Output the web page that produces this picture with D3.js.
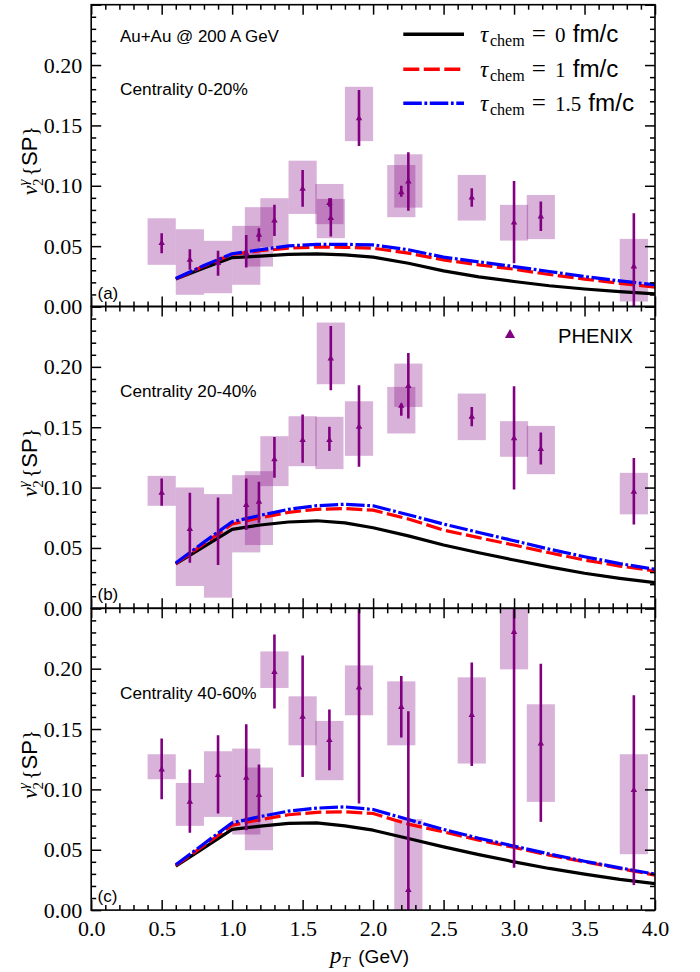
<!DOCTYPE html>
<html><head><meta charset="utf-8">
<script src="https://cdn.jsdelivr.net/npm/d3@7"></script>
<style>
body{margin:0;background:#fff} svg{display:block}
.serif{font-family:"Liberation Serif","DejaVu Serif",serif}
.sans{font-family:"Liberation Sans","DejaVu Sans",sans-serif}
</style>
</head><body><svg id="c" width="700" height="972"></svg>
<script>
// ---------- data ----------
const pT = [0.5,0.7,0.9,1.1,1.19,1.3,1.5,1.69,1.70,1.9,2.2,2.25,2.7,3.0,3.19,3.85];

const v2A     = [0.0525,0.0386,0.0359,0.044,0.0593,0.0712,0.0974,0.0856,0.0731,0.1559,0.0946,0.1034,0.0902,0.0695,0.0745,0.0331];
const statLoA = [0.0442,0.0304,0.0254,0.0323,0.0538,0.0585,0.0827,0.0827,0.0579,0.133,0.091,0.0794,0.0827,0.0359,0.0626,-0.01];
const statHiA = [0.0607,0.0475,0.0461,0.0593,0.0649,0.0842,0.1131,0.0897,0.0897,0.1793,0.1001,0.1277,0.098,0.104,0.0869,0.0773];
const sysLoA  = [0.0345,0.0097,0.011,0.018,0.0331,0.0492,0.0767,0.0682,0.0566,0.137,0.074,0.0819,0.0712,0.0546,0.0558,0.0041];
const sysHiA  = [0.0731,0.064,0.0544,0.0668,0.0823,0.0897,0.1208,0.1015,0.0891,0.182,0.1172,0.1261,0.109,0.0842,0.0924,0.056];

const v2B     = [0.0957,0.0656,0.062,0.0855,0.0882,0.1233,0.1393,0.1393,0.2069,0.1503,0.1677,0.184,0.1586,0.1407,0.1318,0.0965];
const statLoB = [0.0849,0.0377,0.0358,0.0648,0.0708,0.1081,0.1205,0.1302,0.1806,0.1172,0.1594,0.1572,0.1508,0.0985,0.1191,0.0695];
const statHiB = [0.1076,0.0957,0.0918,0.1076,0.1048,0.142,0.1605,0.1503,0.2338,0.1848,0.1696,0.2115,0.1668,0.184,0.1456,0.1246];
const sysLoB  = [0.0849,0.0185,0.0088,0.0463,0.0524,0.1012,0.1177,0.1153,0.1856,0.1263,0.1448,0.1668,0.1393,0.1255,0.1111,0.0778];
const sysHiB  = [0.1097,0.1001,0.0946,0.1103,0.1136,0.1426,0.1591,0.1586,0.2367,0.1715,0.1834,0.2027,0.1779,0.155,0.1511,0.1122];

const v2C     = [0.1164,0.0896,0.1117,0.1095,0.0952,0.1972,0.16,0.1407,0.29,0.1843,0.1682,0.0166,0.1614,0.2303,0.1379,0.0993];
const statLoC = [0.0918,0.064,0.08,0.0662,0.0731,0.1669,0.1103,0.1158,0.2485,0.0883,0.1429,-0.13,0.1194,0.035,0.0731,0.0207];
const statHiC = [0.1421,0.1164,0.1448,0.1539,0.1206,0.2284,0.211,0.1661,0.33,0.28,0.1939,0.1647,0.205,0.43,0.2041,0.1779];
const sysLoC  = [0.1084,0.0698,0.0772,0.0626,0.0496,0.184,0.1365,0.1076,0.26,0.1614,0.1365,-0.04,0.1214,0.1994,0.0896,0.0463];
const sysHiC  = [0.1291,0.1053,0.1316,0.1338,0.1181,0.2143,0.1771,0.1567,0.32,0.2027,0.1895,0.0753,0.1928,0.26,0.1705,0.1291];

const curvePT = [0.6,0.8,1.0,1.2,1.4,1.6,1.8,2.0,2.25,2.5,2.75,3.0,3.25,3.5,3.75,4.0];
const tau0A  = [0.0227,0.0318,0.0405,0.0418,0.0432,0.0436,0.0428,0.0409,0.0358,0.0295,0.0245,0.0207,0.0172,0.0145,0.0124,0.0105];
const tau1A  = [0.023,0.0335,0.0432,0.0462,0.0483,0.0492,0.049,0.0483,0.0442,0.0386,0.0345,0.0309,0.0265,0.0227,0.0192,0.016];
const tau15A = [0.0232,0.034,0.0437,0.047,0.0502,0.0514,0.0515,0.051,0.047,0.0409,0.037,0.0331,0.029,0.0248,0.0212,0.018];
const tau0B  = [0.0367,0.051,0.0654,0.069,0.0715,0.0725,0.0708,0.0667,0.06,0.0524,0.046,0.040,0.0343,0.029,0.0248,0.0212];
const tau1B  = [0.037,0.0535,0.0698,0.075,0.0795,0.082,0.0826,0.0813,0.074,0.0648,0.0585,0.0524,0.046,0.040,0.035,0.0309];
const tau15B = [0.0375,0.0548,0.0717,0.077,0.082,0.085,0.0862,0.0849,0.0775,0.0698,0.0628,0.056,0.049,0.0427,0.037,0.0323];
const tau0C  = [0.0364,0.0515,0.0668,0.0695,0.0718,0.0723,0.0698,0.0662,0.0593,0.0524,0.046,0.040,0.0345,0.0298,0.0255,0.022];
const tau1C  = [0.037,0.0535,0.0703,0.075,0.079,0.081,0.0815,0.080,0.0712,0.0648,0.058,0.0519,0.0455,0.040,0.0345,0.029];
const tau15C = [0.0375,0.055,0.0723,0.0775,0.082,0.0845,0.0855,0.0833,0.075,0.0668,0.0595,0.053,0.0465,0.0405,0.035,0.0298];

const xMajorTicks = [0,0.5,1.0,1.5,2.0,2.5,3.0,3.5,4.0];
const yMajorTicks = [0,0.05,0.10,0.15,0.20,0.25];
const yTickLabels = ["0.00","0.05","0.10","0.15","0.20",""];
const panelTags = ["(a)","(b)","(c)"];
const centralityLabels = ["Centrality 0-20%","Centrality 20-40%","Centrality 40-60%"];
const legendValues = ["0","1","1.5"];
const systemLabel = "Au+Au @ 200 A GeV";
const expLabel = "PHENIX";

// ---------- layout ----------
const X0 = 91.2, X1 = 655;
const panelTop = [4.7, 306.5, 608.3], PH = 301.8;
const PURPLE = "#800080";
const svg = d3.select("#c");
const x = d3.scaleLinear().domain([0,4]).range([X0,X1]);
const xMinor = d3.range(0,41).map(d=>d/10).filter(d=>Math.abs(d*2-Math.round(d*2))>1e-6);
const yMinor = d3.range(0,26).map(d=>d/100).filter(d=>Math.abs(d*20-Math.round(d*20))>1e-6);

function fitText(sel, w){
  const cur = parseFloat(sel.attr("font-size"));
  const L = sel.node().getComputedTextLength();
  sel.attr("font-size", cur*w/L);
}

const panels = [
  {v:v2A, sl:statLoA, sh:statHiA, bl:sysLoA, bh:sysHiA, c:[tau0A,tau1A,tau15A]},
  {v:v2B, sl:statLoB, sh:statHiB, bl:sysLoB, bh:sysHiB, c:[tau0B,tau1B,tau15B]},
  {v:v2C, sl:statLoC, sh:statHiC, bl:sysLoC, bh:sysHiC, c:[tau0C,tau1C,tau15C]}
];
const curveStyles = [
  {color:"#000000", dash:null},
  {color:"#ff0000", dash:"16,4.5"},
  {color:"#0000ff", dash:"18.5,2.6,2.8,2.6"}
];

const defs = svg.append("defs");

panels.forEach((p,i)=>{
  const top = panelTop[i], bot = top+PH;
  const y = d3.scaleLinear().domain([0,0.25]).range([bot,top]);
  defs.append("clipPath").attr("id","clip"+i).append("rect")
    .attr("x",X0).attr("y",top).attr("width",X1-X0).attr("height",PH);
  const g = svg.append("g");
  const pg = g.append("g").attr("clip-path",`url(#clip${i})`);

  // systematic boxes
  pg.selectAll("rect.sys").data(pT).enter().append("rect").attr("class","sys")
    .attr("x",d=>x(d-0.1)).attr("width",d=>x(d+0.1)-x(d-0.1))
    .attr("y",(d,j)=>y(p.bh[j])).attr("height",(d,j)=>y(p.bl[j])-y(p.bh[j]))
    .attr("fill",PURPLE).attr("fill-opacity",0.3);

  // theory curves
  p.c.forEach((arr,k)=>{
    const line = d3.line().x((d,j)=>x(curvePT[j])).y(d=>y(d));
    const path = pg.append("path").attr("d",line(arr)).attr("fill","none")
      .attr("stroke",curveStyles[k].color).attr("stroke-width",3.2)
      .attr("stroke-linejoin","round");
    if(curveStyles[k].dash) path.attr("stroke-dasharray",curveStyles[k].dash);
  });

  // stat error bars
  pg.selectAll("line.err").data(pT).enter().append("line")
    .attr("x1",d=>x(d)).attr("x2",d=>x(d))
    .attr("y1",(d,j)=>y(p.sl[j])).attr("y2",(d,j)=>y(p.sh[j]))
    .attr("stroke",PURPLE).attr("stroke-width",2.6);
  // markers
  pg.selectAll("path.mk").data(pT).enter().append("path")
    .attr("d",d3.symbol(d3.symbolTriangle,18))
    .attr("transform",(d,j)=>`translate(${x(d)},${y(p.v[j])})`)
    .attr("fill",PURPLE);

  // axes
  const ax = g.append("g");
  const left = ax.append("g").attr("transform",`translate(${X0},0)`)
    .call(d3.axisLeft(y).tickValues(yMajorTicks).tickSize(-10).tickPadding(9)
      .tickFormat((d,j)=>yTickLabels[j]));
  left.append("g").call(d3.axisLeft(y).tickValues(yMinor).tickSize(-5).tickFormat(""));
  const right = ax.append("g").attr("transform",`translate(${X1},0)`)
    .call(d3.axisRight(y).tickValues(yMajorTicks).tickSize(-10).tickFormat(""));
  right.append("g").call(d3.axisRight(y).tickValues(yMinor).tickSize(-5).tickFormat(""));
  const topAx = ax.append("g").attr("transform",`translate(0,${top})`)
    .call(d3.axisTop(x).tickValues(xMajorTicks).tickSize(-10).tickFormat(""));
  topAx.append("g").call(d3.axisTop(x).tickValues(xMinor).tickSize(-5).tickFormat(""));
  const botAx = ax.append("g").attr("transform",`translate(0,${bot})`)
    .call(d3.axisBottom(x).tickValues(xMajorTicks).tickSize(-10).tickPadding(10)
      .tickFormat(i===2 ? d3.format(".1f") : ""));
  botAx.append("g").call(d3.axisBottom(x).tickValues(xMinor).tickSize(-5).tickFormat(""));
  ax.selectAll(".domain").remove();
  ax.selectAll(".tick line").attr("stroke","#000").attr("stroke-width",1.5);
  ax.selectAll(".tick text").attr("class","serif").attr("font-family",null)
    .style("font-family","'Liberation Serif','DejaVu Serif',serif")
    .style("font-size","22px").attr("fill","#000");
  g.append("rect").attr("x",X0).attr("y",top).attr("width",X1-X0).attr("height",PH)
    .attr("fill","none").attr("stroke","#000").attr("stroke-width",1.6);

  // panel tag
  g.append("text").attr("class","sans").attr("x",97.5).attr("y",bot-8)
    .attr("font-size",17).text(panelTags[i]);
  // centrality
  const cy = [95, 396.7, 699][i];
  const ct = g.append("text").attr("class","sans").attr("x",120).attr("y",cy)
    .attr("font-size",17).text(centralityLabels[i]);
  fitText(ct, i===0 ? 128 : 136.7);

  // y label
  const yl = svg.append("text").attr("class","serif")
    .attr("transform",`translate(37,${(top+bot)/2+5}) rotate(-90)`)
    .attr("text-anchor","middle").attr("font-size",22);
  yl.append("tspan").attr("font-style","italic").text("v");
  yl.append("tspan").attr("font-style","italic").attr("font-size",15).attr("dy",-9).text("γ");
  yl.append("tspan").attr("font-size",15).attr("dx",-6.5).attr("dy",15).text("2");
  yl.append("tspan").attr("dy",-6).attr("dx",2).text("{");
  yl.append("tspan").attr("class","sans").text("SP");
  yl.append("tspan").text("}");
});

// system label
const sl = svg.append("text").attr("class","sans").attr("x",120).attr("y",41.7)
  .attr("font-size",17).text(systemLabel);
fitText(sl,159);

// theory legend
const legY = [34.3, 69.3, 103.3];
legendValues.forEach((val,k)=>{
  const ly = legY[k];
  const l = svg.append("line").attr("x1",403.3).attr("x2",464).attr("y1",ly).attr("y2",ly)
    .attr("stroke",curveStyles[k].color).attr("stroke-width",3.4);
  if(curveStyles[k].dash) l.attr("stroke-dasharray",curveStyles[k].dash);
  const b = ly+8;
  svg.append("text").attr("class","serif").attr("x",480).attr("y",b)
    .attr("font-style","italic").attr("font-size",23).text("τ");
  svg.append("text").attr("class","serif").attr("x",490).attr("y",b+4)
    .attr("font-size",16).text("chem");
  svg.append("text").attr("class","serif").attr("x",531.7).attr("y",b)
    .attr("font-size",25).text("=");
  svg.append("text").attr("class","serif").attr("x",555).attr("y",b)
    .attr("font-size",21).text(val);
  const fm = svg.append("text").attr("class","sans").attr("x",k===2?588.3:572.7).attr("y",b)
    .attr("font-size",21).text("fm/c");
  fitText(fm,45.7);
});

// PHENIX legend
svg.append("path").attr("d",d3.symbol(d3.symbolTriangle,45)())
  .attr("transform","translate(510,335)").attr("fill",PURPLE);
const ph = svg.append("text").attr("class","sans").attr("x",558).attr("y",343.3)
  .attr("font-size",20).text(expLabel);
fitText(ph,75);

// x label
const xl = svg.append("text").attr("class","serif").attr("x",330).attr("y",963).attr("font-size",23);
xl.append("tspan").attr("font-style","italic").text("p");
xl.append("tspan").attr("font-style","italic").attr("font-size",15).attr("dy",4).text("T");
xl.append("tspan").attr("class","sans").attr("font-size",19)
  .attr("dy",-4).attr("x",358.3).text("(GeV)");
</script>
</body></html>
